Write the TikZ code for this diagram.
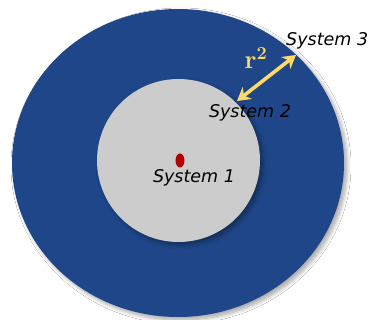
\documentclass[tikz,border=0pt]{standalone}
\usepackage{fontspec}
\newfontfamily\handfont{DejaVu Sans}
\usetikzlibrary{arrows.meta,shadows.blur,shapes.geometric}
\definecolor{outerblue}{RGB}{30,70,136}
\definecolor{innergrey}{RGB}{204,204,204}
\definecolor{dotred}{RGB}{176,0,0}
\definecolor{gold}{RGB}{255,217,102}
\tikzset{
  syslabel/.style={font=\handfont\itshape\fontsize{17.5}{20}\selectfont, text=black, inner sep=0pt},
  disc/.style={draw=none, blur shadow={shadow xshift=3pt, shadow yshift=-3pt, shadow blur steps=8, shadow blur radius=4pt, shadow opacity=35}},
  rarrow/.style={draw=gold, line width=3.6pt, {Stealth[length=13pt,width=15pt]}-{Stealth[length=13pt,width=15pt]}}
}
\begin{document}
\begin{tikzpicture}[x=1pt,y=-1pt]
\useasboundingbox (0,0) rectangle (368,320);
\fill[white] (0,0) rectangle (368,320);
\path[disc, fill=outerblue] (178,163) ellipse [x radius=166, y radius=154];
\path[disc, fill=innergrey] (178.5,160.5) circle [radius=81.5];
\node[ellipse, fill=dotred, minimum width=9pt, minimum height=14pt, inner sep=0pt] (dot) at (180,160.5) {};
\node[syslabel] (s1) at (194,178) {System 1};
\node[syslabel] (s2) at (250,113) {System 2};
\node[syslabel, anchor=west] (s3) at (286,41) {System 3};
\coordinate (p2) at (237,101);
\coordinate (p3) at (296,55);
\draw[rarrow] (p2) -- (p3);
\node[text=gold, font=\fontsize{26}{28}\selectfont\bfseries, inner sep=0pt] (r) at (256,58) {r\textsuperscript{2}};
\end{tikzpicture}
\end{document}
